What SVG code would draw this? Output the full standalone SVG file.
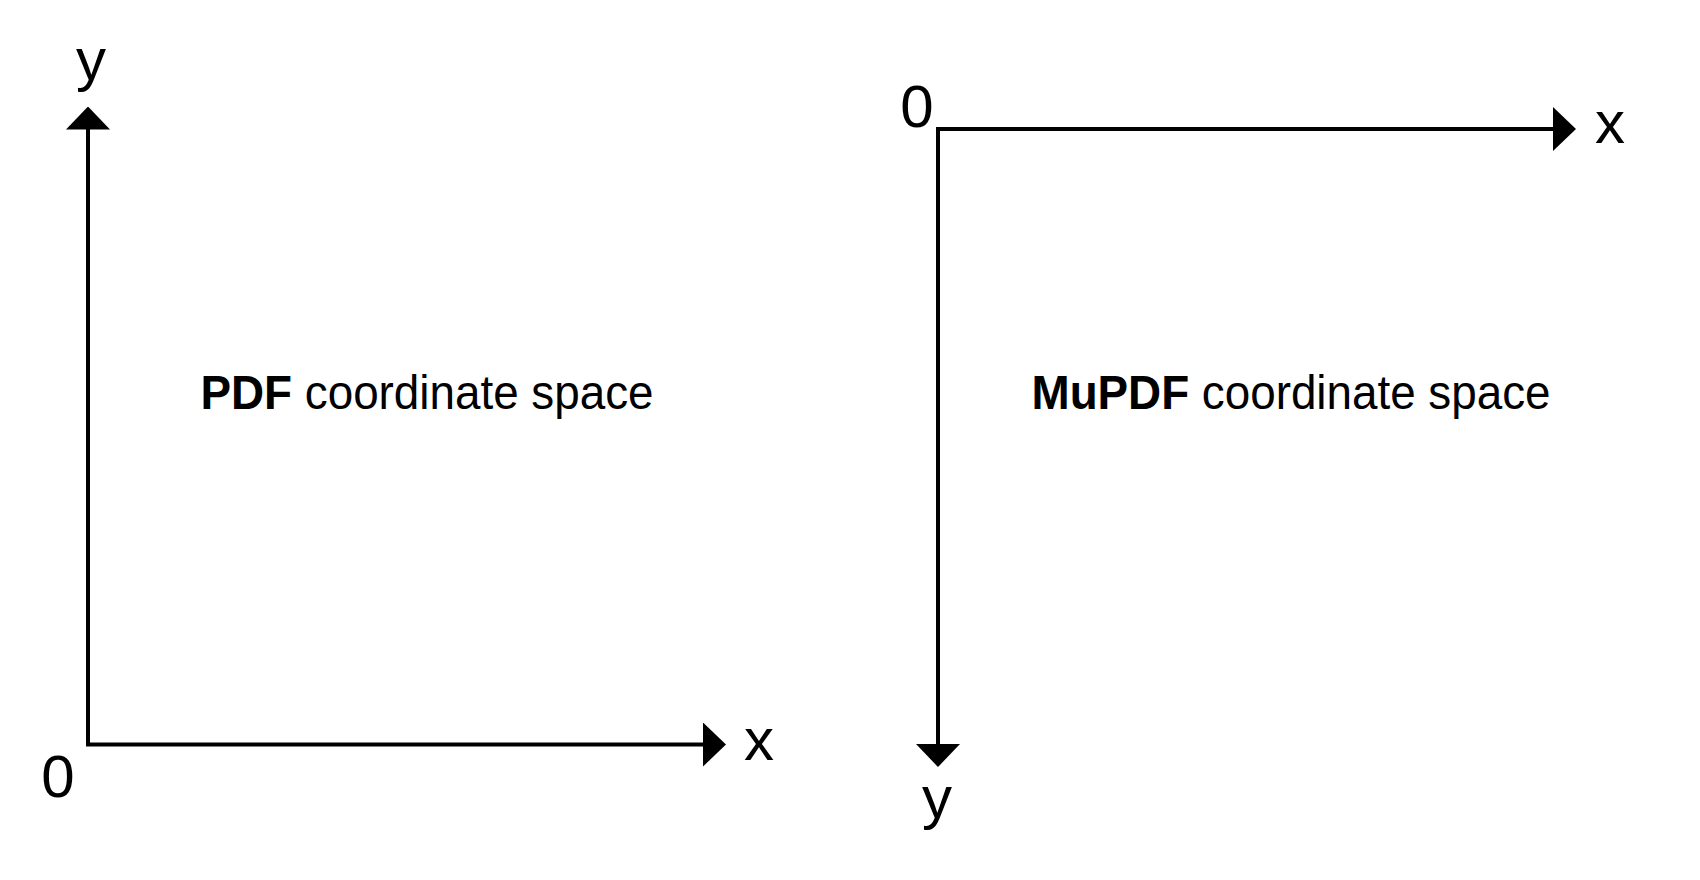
<svg xmlns="http://www.w3.org/2000/svg" width="1700" height="880" viewBox="0 0 1700 880">
<style>
.axis{fill:none;stroke:#000;stroke-width:4;stroke-linejoin:miter;marker-start:url(#ah);marker-end:url(#ah)}
.lbl{font-family:"Liberation Sans",Arial,sans-serif;font-size:60px;fill:#000;text-anchor:middle}
.title{font-family:"Liberation Sans",Arial,sans-serif;font-size:48px;fill:#000;text-anchor:start}
.b{font-weight:bold}
</style>
<defs>
<marker id="ah" viewBox="0 0 23 44" markerWidth="23" markerHeight="44" refX="1" refY="22" markerUnits="userSpaceOnUse" orient="auto-start-reverse">
<path d="M0,0 L23,22 L0,44 Z" fill="#000"/>
</marker>
</defs>
<rect width="1700" height="880" fill="#fff"/>
<g id="connectors">
<path class="axis" d="M88,128.5 V744.5 H704"/>
<path class="axis" d="M1554,129 H938 V745"/>
</g>
<g id="pdf-space">
<text class="lbl" x="91" y="80">y</text>
<text class="lbl" x="58" y="797">0</text>
<text class="lbl" x="759" y="760">x</text>
<text class="title" x="200.5" y="409" textLength="453" lengthAdjust="spacingAndGlyphs"><tspan class="b">PDF</tspan> coordinate space</text>
</g>
<g id="mupdf-space">
<text class="lbl" x="917" y="127">0</text>
<text class="lbl" x="1610" y="143">x</text>
<text class="lbl" x="937" y="818">y</text>
<text class="title" x="1031.5" y="409" textLength="519" lengthAdjust="spacingAndGlyphs"><tspan class="b">MuPDF</tspan> coordinate space</text>
</g>
</svg>
